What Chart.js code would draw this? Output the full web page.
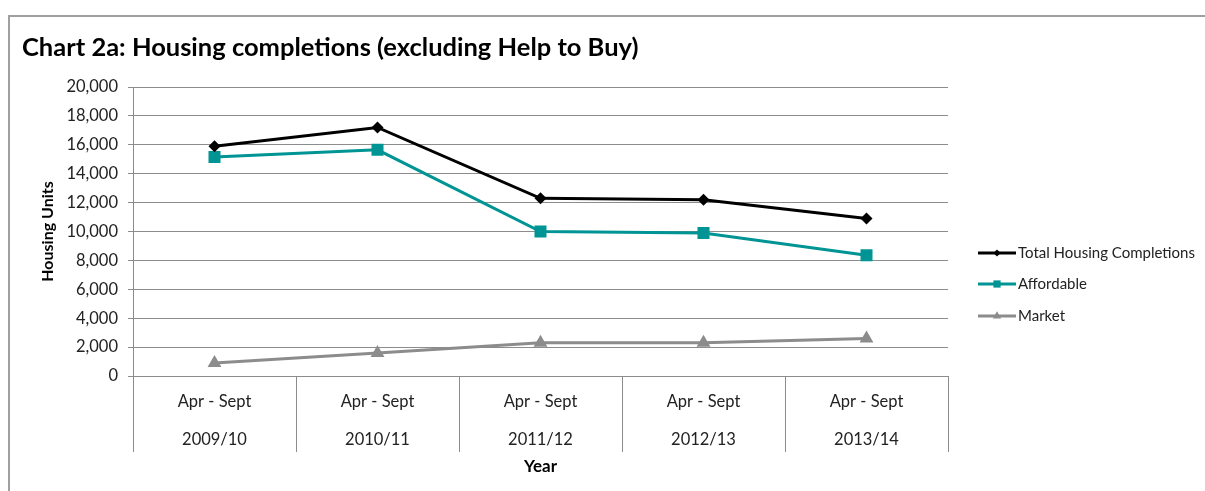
<!DOCTYPE html>
<html>
<head>
<meta charset="utf-8">
<script src="https://cdn.jsdelivr.net/npm/chart.js@4.4.1/dist/chart.umd.min.js"></script>
<style>
  html, body { margin: 0; padding: 0; background: #fff; }
  #frame { position: absolute; left: 8px; top: 15px; width: 1197px; height: 476px;
           border-top: 2px solid #a0a0a0; border-left: 2px solid #a0a0a0; box-sizing: border-box; }
  #wrap { position: absolute; left: 0; top: 0; width: 1205px; height: 491px; }
</style>
</head>
<body>
<div id="frame"></div>
<div id="wrap"><canvas id="chart" width="1205" height="491"></canvas></div>
<script>
// Chart data
const periods = ['2009/10', '2010/11', '2011/12', '2012/13', '2013/14'];
const periodSub = 'Apr - Sept';
const totalCompletions = [15900, 17200, 12300, 12200, 10900];
const affordable = [15150, 15650, 10000, 9900, 8350];
const market = [900, 1600, 2300, 2300, 2600];
const yTicks = [0, 2000, 4000, 6000, 8000, 10000, 12000, 14000, 16000, 18000, 20000];

const FONT = 'Lato, "Open Sans", sans-serif';
const GRID = '#8c8c8c';

// separators between categories that run below the axis
const categorySeparators = {
    id: 'categorySeparators',
    afterDraw(chart) {
        const x = chart.scales.x;
        const area = chart.chartArea;
        const ctx = chart.ctx;
        const n = chart.data.labels.length;
        ctx.save();
        ctx.strokeStyle = GRID;
        ctx.lineWidth = 1;
        for (let i = 0; i <= n; i++) {
            const px = Math.round(x.getPixelForValue(i - 0.5)) + 0.5;
            ctx.beginPath();
            ctx.moveTo(px, area.bottom);
            ctx.lineTo(px, area.bottom + 76);
            ctx.stroke();
        }
        ctx.restore();
    }
};

// legend on the right with line sample + marker
const sideLegend = {
    id: 'sideLegend',
    afterDraw(chart) {
        const ctx = chart.ctx;
        const area = chart.chartArea;
        const x0 = area.right + 30;
        const x1 = x0 + 38;
        const rows = [253, 284, 316];
        ctx.save();
        chart.data.datasets.forEach((ds, i) => {
            const y = rows[i];
            ctx.strokeStyle = ds.borderColor;
            ctx.lineWidth = 3;
            ctx.beginPath();
            ctx.moveTo(x0, y);
            ctx.lineTo(x1, y);
            ctx.stroke();
            ctx.fillStyle = ds.borderColor;
            Chart.helpers.drawPoint(ctx, { pointStyle: ds.pointStyle, radius: ds.pointRadius * 0.6, borderWidth: 0 }, (x0 + x1) / 2, y);
            ctx.fillStyle = '#222';
            ctx.font = '15px ' + FONT;
            ctx.textBaseline = 'middle';
            ctx.textAlign = 'left';
            ctx.fillText(ds.label, x1 + 2, y);
        });
        ctx.restore();
    }
};

new Chart(document.getElementById('chart'), {
    type: 'line',
    data: {
        labels: periods.map(p => [periodSub, p]),
        datasets: [
            {
                label: 'Total Housing Completions',
                data: totalCompletions,
                borderColor: '#000000',
                backgroundColor: '#000000',
                borderWidth: 3,
                pointStyle: 'rectRot',
                pointRadius: 6,
                pointBorderWidth: 0
            },
            {
                label: 'Affordable',
                data: affordable,
                borderColor: '#009494',
                backgroundColor: '#009494',
                borderWidth: 3,
                pointStyle: 'rect',
                pointRadius: 8.5,
                pointBorderWidth: 0
            },
            {
                label: 'Market',
                data: market,
                borderColor: '#8c8c8c',
                backgroundColor: '#8c8c8c',
                borderWidth: 3,
                pointStyle: 'triangle',
                pointRadius: 8,
                pointBorderWidth: 0
            }
        ]
    },
    options: {
        responsive: false,
        animation: false,
        layout: { padding: { left: 22, right: 257, top: 0, bottom: 0 } },
        plugins: {
            legend: { display: false },
            tooltip: { enabled: false },
            title: {
                display: true,
                text: 'Chart 2a: Housing completions (excluding Help to Buy)',
                align: 'start',
                color: '#000',
                font: { family: FONT, size: 25.5, weight: 'bold' },
                padding: { top: 32, bottom: 24.4 }
            }
        },
        scales: {
            x: {
                offset: true,
                afterFit(scale) { scale.height = 115; },
                grid: { display: false, drawTicks: false },
                border: { display: false },
                ticks: {
                    color: '#222',
                    padding: 7,
                    maxRotation: 0,
                    autoSkip: false,
                    font: { family: FONT, size: 16.5, lineHeight: 38 / 16.5 }
                },
                title: {
                    display: true,
                    text: 'Year',
                    color: '#000',
                    font: { family: FONT, size: 17, weight: 'bold' },
                    padding: { top: 0, bottom: 14 }
                }
            },
            y: {
                min: 0,
                max: 20000,
                afterFit(scale) { scale.width = 111; },
                afterBuildTicks(scale) { scale.ticks = yTicks.map(v => ({ value: v })); },
                grid: { color: GRID, lineWidth: 1, tickLength: 5 },
                border: { color: GRID, width: 1 },
                ticks: {
                    color: '#222',
                    padding: 10,
                    font: { family: FONT, size: 16.5 },
                    callback: v => v.toLocaleString('en-GB')
                },
                title: {
                    display: true,
                    text: 'Housing Units',
                    color: '#000',
                    font: { family: FONT, size: 16, weight: 'bold' },
                    padding: { top: 16, bottom: 0 }
                }
            }
        }
    },
    plugins: [categorySeparators, sideLegend]
});
</script>
</body>
</html>
